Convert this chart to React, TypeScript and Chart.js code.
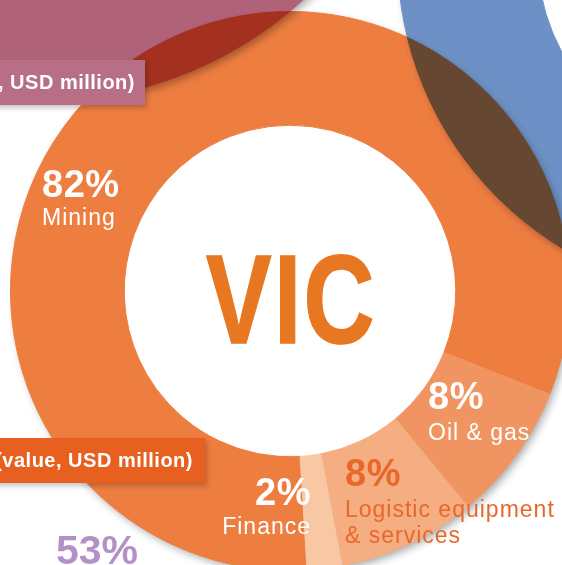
import React, { useEffect, useRef } from 'react';
import { Chart, registerables } from 'chart.js';

Chart.register(...registerables);

// ---- data ----
const categoryLines: string[][] = [['Mining'], ['Oil & gas'], ['Logistic equipment', '& services'], ['Finance']];
const shares = [82, 8, 8, 2];
const shareLabels = ['82%', '8%', '8%', '2%'];
const centerTitle = 'VIC';
const leftRingShares = [100];
const rightRingShares = [100];
const boxTitle = '(value, USD million)';
const otherShareLabel = '53%';

// ---- styles ----
const sliceColors = ['#EE7D40', '#F09461', '#F4AE82', '#F8C7A4'];
const FONT = '"Liberation Sans", Arial, sans-serif';
const labelAnchors = [
  { dx: -248, dy: -94, align: 'left', color: '#ffffff', gap: 28 },
  { dx: 138, dy: 118, align: 'left', color: '#ffffff', gap: 31 },
  { dx: 55, dy: 195, align: 'left', color: '#E8672A', gap: 31 },
  { dx: 20, dy: 214, align: 'right', color: '#ffffff', gap: 29 },
];

const ringShadow = {
  id: 'ringShadow',
  beforeDatasetsDraw(chart: any) {
    const arc: any = chart.getDatasetMeta(0).data[0];
    if (!arc) return;
    const { x, y, outerRadius } = arc.getProps(['x', 'y', 'outerRadius'], true);
    const ctx = chart.ctx;
    ctx.save();
    ctx.shadowColor = 'rgba(0,0,0,0.35)';
    ctx.shadowBlur = 8;
    ctx.shadowOffsetX = 3;
    ctx.shadowOffsetY = 4;
    ctx.fillStyle = '#ffffff';
    ctx.beginPath();
    ctx.arc(x, y, outerRadius - 1, 0, Math.PI * 2);
    ctx.fill();
    ctx.restore();
  },
};

const sliceLabels = {
  id: 'sliceLabels',
  afterDatasetsDraw(chart: any) {
    const arc: any = chart.getDatasetMeta(0).data[0];
    if (!arc) return;
    const { x, y } = arc.getProps(['x', 'y'], true);
    const ctx = chart.ctx;
    ctx.save();
    // centre title
    ctx.save();
    ctx.translate(x - 84, y + 52);
    ctx.scale(0.78, 1);
    (ctx as any).letterSpacing = '3px';
    ctx.font = `bold 126px ${FONT}`;
    ctx.textAlign = 'left';
    ctx.textBaseline = 'alphabetic';
    ctx.fillStyle = '#E87722';
    ctx.strokeStyle = '#E87722';
    ctx.lineWidth = 1.5;
    ctx.fillText(centerTitle, 0, 0);
    ctx.strokeText(centerTitle, 0, 0);
    ctx.restore();

    ctx.textBaseline = 'alphabetic';
    shares.forEach((_, i) => {
      const a = labelAnchors[i];
      ctx.fillStyle = a.color;
      ctx.textAlign = a.align;
      (ctx as any).letterSpacing = '0.5px';
      ctx.font = `bold 38px ${FONT}`;
      const ax = x + a.dx + (a.align === 'right' ? 1 : 0);
      ctx.fillText(shareLabels[i], ax, y + a.dy);
      (ctx as any).letterSpacing = '1px';
      ctx.font = `23px ${FONT}`;
      categoryLines[i].forEach((line, j) => {
        ctx.fillText(line, ax, y + a.dy + a.gap + j * 26);
      });
    });
    ctx.restore();
  },
};

function makeRing(canvas: HTMLCanvasElement, data: number[], colors: string[], cutout: string, rotation: number, extraPlugins: any[]) {
  return new Chart(canvas, {
    type: 'doughnut',
    data: {
      labels: data.map((_, i) => String(i)),
      datasets: [
        {
          data,
          backgroundColor: colors,
          borderColor: colors,
          borderWidth: 1,
          hoverOffset: 0,
          offset: 0,
        },
      ],
    },
    options: {
      responsive: false,
      animation: false,
      devicePixelRatio: 1,
      cutout,
      rotation,
      layout: { padding: 0 },
      events: [],
      plugins: { legend: { display: false }, tooltip: { enabled: false } },
    },
    plugins: extraPlugins,
  } as any);
}

export default function App() {
  const mainRef = useRef<HTMLCanvasElement>(null);
  const leftRef = useRef<HTMLCanvasElement>(null);
  const rightRef = useRef<HTMLCanvasElement>(null);

  useEffect(() => {
    const charts: Chart[] = [];
    if (leftRef.current) charts.push(makeRing(leftRef.current, leftRingShares, ['#B06279'], '60%', 0, [ringShadow]));
    if (rightRef.current) charts.push(makeRing(rightRef.current, rightRingShares, ['#6D91C6'], '59%', 0, [ringShadow]));
    if (mainRef.current) charts.push(makeRing(mainRef.current, shares, sliceColors, '59.3%', 176.5, [ringShadow, sliceLabels]));
    return () => charts.forEach((c) => c.destroy());
  }, []);

  const canvasStyle = (left: number, top: number): React.CSSProperties => ({
    position: 'absolute',
    left,
    top,
    mixBlendMode: 'multiply',
  });

  return (
    <div
      style={{
        position: 'fixed',
        left: 0,
        top: 0,
        width: 562,
        height: 565,
        overflow: 'hidden',
        background: '#ffffff',
        isolation: 'isolate',
        fontFamily: FONT,
      }}
    >
      <canvas ref={leftRef} width={784} height={784} style={canvasStyle(-352, -682)} />
      <canvas ref={rightRef} width={684} height={684} style={canvasStyle(397, -386)} />
      <canvas ref={mainRef} width={560} height={560} style={canvasStyle(10, 11)} />
      <div
        style={{
          position: 'absolute',
          left: -90,
          top: 60,
          width: 235,
          height: 45,
          boxSizing: 'border-box',
          background: '#B86E85',
          color: '#fff',
          font: `bold 20px ${FONT}`,
          letterSpacing: '0.5px',
          display: 'flex',
          alignItems: 'center',
          justifyContent: 'flex-end',
          paddingRight: 10,
          whiteSpace: 'nowrap',
          boxShadow: '2px 3px 5px rgba(0,0,0,0.22)',
        }}
      >
        {boxTitle}
      </div>
      <div
        style={{
          position: 'absolute',
          left: -20,
          top: 438,
          width: 225,
          height: 45,
          boxSizing: 'border-box',
          background: '#E8601F',
          color: '#fff',
          font: `bold 20px ${FONT}`,
          letterSpacing: '0.5px',
          display: 'flex',
          alignItems: 'center',
          justifyContent: 'flex-end',
          paddingRight: 12,
          whiteSpace: 'nowrap',
          boxShadow: '2px 3px 5px rgba(0,0,0,0.22)',
        }}
      >
        {boxTitle}
      </div>
      <div
        style={{
          position: 'absolute',
          left: 56,
          top: 530,
          font: `bold 41px ${FONT}`,
          lineHeight: '41px',
          color: '#B391C6',
          whiteSpace: 'nowrap',
        }}
      >
        {otherShareLabel}
      </div>
    </div>
  );
}
